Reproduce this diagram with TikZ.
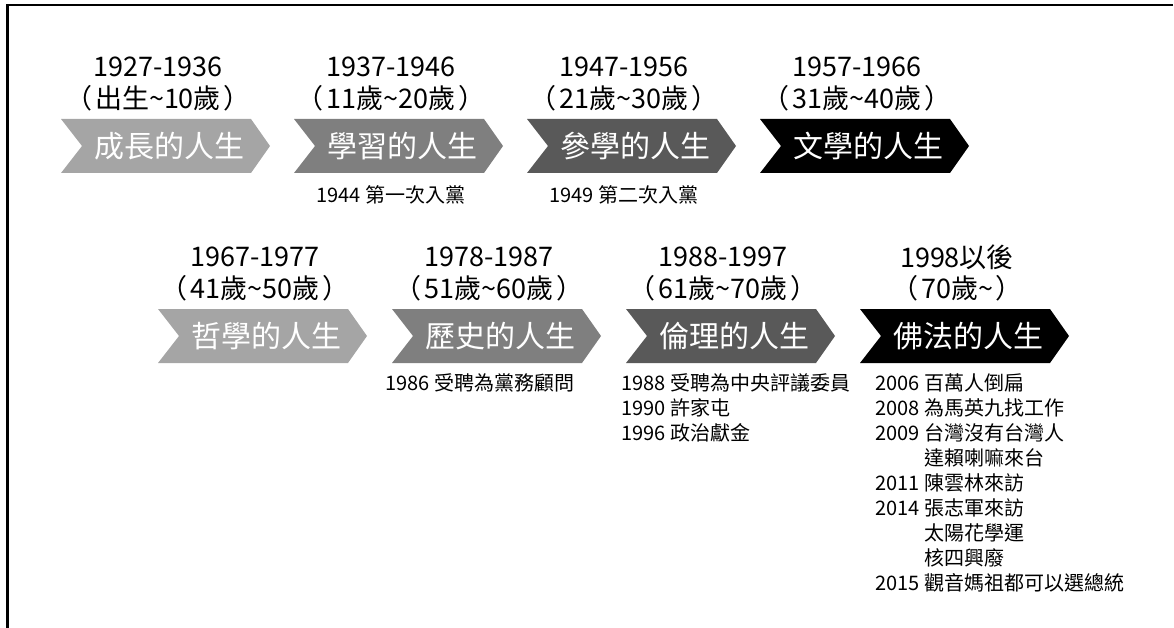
\documentclass[tikz,border=0pt]{standalone}
\usepackage{fontspec}
\setmainfont{Noto Sans CJK TC}
\usetikzlibrary{calc}

\definecolor{lightstage}{HTML}{A5A5A5}
\definecolor{midstage}{HTML}{7F7F7F}
\definecolor{darkstage}{HTML}{595959}

\tikzset{
    stagetext/.style={text=white,inner sep=0pt,font=\fontsize{30}{30}\selectfont},
    yeartext/.style={inner sep=0pt,font=\fontsize{27}{27}\selectfont},
    eventtext/.style={inner sep=0pt,anchor=west,font=\fontsize{20}{20}\selectfont},
}

\begin{document}
\begin{tikzpicture}[x=1pt,y=-1pt]
\useasboundingbox (0,0) rectangle (1174,628);

% Frame lines.
\draw[line width=2.2pt] (1173,5) -- (7.5,5) -- (7.5,628);

% Loop for each stage of life.
\foreach \n/\l/\m/\c/\t/\y/\a in {
    1/61/146/lightstage/成長的人生/1927-1936/出生\textasciitilde10歲,
    2/294/146/midstage/學習的人生/1937-1946/11歲\textasciitilde20歲,
    3/527/146/darkstage/參學的人生/1947-1956/21歲\textasciitilde30歲,
    4/760/146/black/文學的人生/1957-1966/31歲\textasciitilde40歲,
    5/158/336/lightstage/哲學的人生/1967-1977/41歲\textasciitilde50歲,
    6/392/336/midstage/歷史的人生/1978-1987/51歲\textasciitilde60歲,
    7/626/336/darkstage/倫理的人生/1988-1997/61歲\textasciitilde70歲,
    8/860/336/black/佛法的人生/1998以後/70歲\textasciitilde} {

    % Chevron body.
    \fill[\c] (\l,\m-27) coordinate (top\n)
        -- ++(190,0) -- ++(19,27) -- ++(-19,27)
        -- ++(-190,0) -- ++(21,-27) -- cycle;

    % Stage name on the chevron.
    \node[stagetext] (stage\n) at (\l+108,\m) {\t};

    % Years and age above. End loop.
    \node[yeartext] (year\n) at (\l+97,\m-79) {\y};
    \node[yeartext] (age\n) at (\l+97,\m-48) {（\hspace{3pt}\a\hspace{3pt}）};
}

% Events under the first row.
\node[eventtext,anchor=center] (ev2) at (391,195) {1944 第一次入黨};
\node[eventtext,anchor=center] (ev3) at (624,195) {1949 第二次入黨};

% Events under the second row.
\node[eventtext] (ev6) at (385,383) {1986 受聘為黨務顧問};

\foreach \i/\t in {0/1988 受聘為中央評議委員,1/1990 許家屯,2/1996 政治獻金}
    \node[eventtext] (ev7\i) at (621,383+25*\i) {\t};

\foreach \i/\t in {0/2006 百萬人倒扁,1/2008 為馬英九找工作,2/2009 台灣沒有台灣人,
    3/\phantom{2009} 達賴喇嘛來台,4/2011 陳雲林來訪,5/2014 張志軍來訪,
    6/\phantom{2014} 太陽花學運,7/\phantom{2014} 核四興廢,8/2015 觀音媽祖都可以選總統}
    \node[eventtext] (ev8\i) at (875,383+25*\i) {\t};
\end{tikzpicture}
\end{document}
